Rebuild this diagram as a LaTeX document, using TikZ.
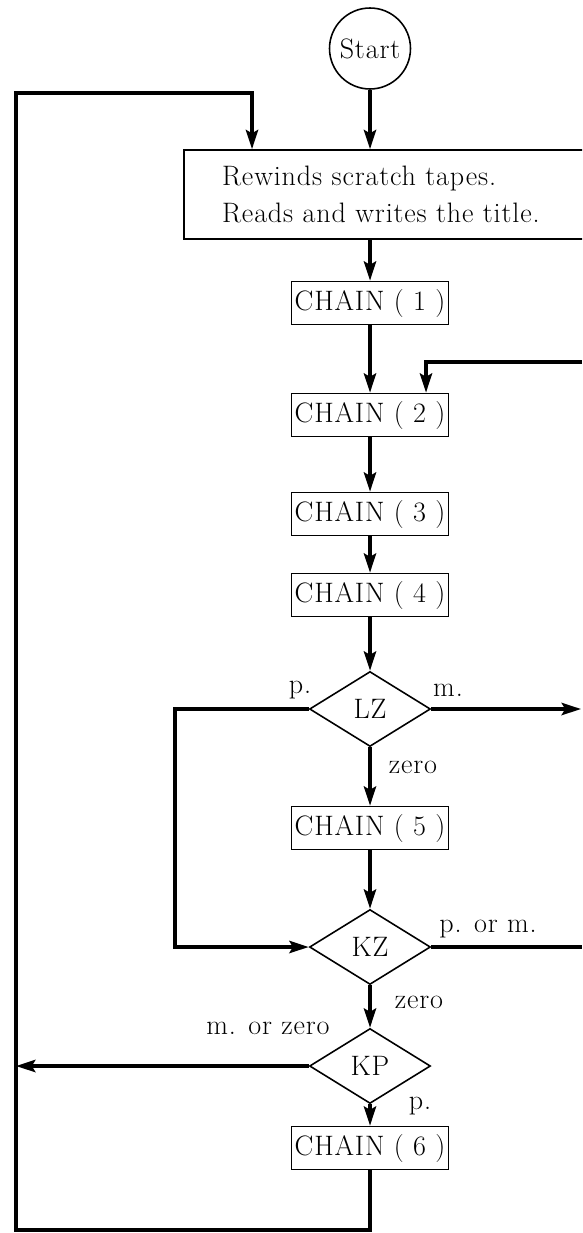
\documentclass[tikz,border=0pt]{standalone}
\usepackage{fontspec}
\setmainfont{Latin Modern Roman}[LetterSpace=3]
\newfontfamily\tapefont{Latin Modern Roman}[LetterSpace=3, WordSpace=2]
\usepackage{tikz}
\usetikzlibrary{arrows.meta, shapes.geometric}

\begin{document}
\begin{tikzpicture}[>={Stealth[length=11pt, width=7pt, inset=2pt]}, x=0.02cm, y=-0.02cm,
  flow/.style={line width=2pt},
  chainbox/.style={draw, line width=0.9pt, minimum width=3.14cm, minimum height=0.86cm, inner sep=0pt, font=\fontsize{16}{18}\selectfont},
  test/.style={diamond, draw, line width=0.9pt, minimum width=2.42cm, minimum height=1.5cm, inner sep=0pt, font=\fontsize{16}{18}\selectfont},
  lbl/.style={font=\fontsize{16}{18}\selectfont, inner sep=0pt}]
\clip (0,0) rectangle (582,1233);
% boxes
\node[circle, draw, line width=0.9pt, minimum size=1.62cm, inner sep=0pt, font=\fontsize{16}{18}\selectfont] (start) at (370,48.5) {Start};
\node[draw, line width=0.9pt, minimum width=8.32cm, minimum height=1.78cm, text width=6.8cm, align=left, inner xsep=0.76cm, inner ysep=0pt, font=\tapefont\fontsize{16}{21.5}\selectfont] (init) at (392,194.5) {Rewinds scratch tapes.\\Reads and writes the title.};
\node[chainbox] (chain1) at (370,303) {CHAIN ( 1 )};
\node[chainbox] (chain2) at (370,415) {CHAIN ( 2 )};
\node[chainbox] (chain3) at (370,514) {CHAIN ( 3 )};
\node[chainbox] (chain4) at (370,595) {CHAIN ( 4 )};
\node[test] (lz) at (370,709) {LZ};
\node[chainbox] (chain5) at (370,828) {CHAIN ( 5 )};
\node[test] (kz) at (370,947) {KZ};
\node[test] (kp) at (370,1066) {KP};
\node[chainbox] (chain6) at (370,1148) {CHAIN ( 6 )};
% labels
\node[lbl] (lzp) at (300,690) {p.};
\node[lbl] (lzm) at (448,690) {m.};
\node[lbl] (lzzero) at (413,767) {zero};
\node[lbl] (kzpm) at (488,929) {p. or m.};
\node[lbl] (kzzero) at (419,1002) {zero};
\node[lbl] (kpmz) at (268,1028) {m. or zero};
\node[lbl] (kpp) at (420,1106) {p.};
% free ends
\coordinate (botR) at (370,1230);
\coordinate (botL) at (16,1230);
\coordinate (topL) at (16,93);
\coordinate (topR) at (252,93);
\coordinate (lzL) at (175,709);
\coordinate (lzR) at (581,709);
\coordinate (kzR) at (582,947);
\coordinate (retR) at (582,362);
\coordinate (retL) at (426,362);
% main flow
\draw[flow,->] (start) -- (start |- init.north);
\draw[flow,->] (init.south -| chain1) -- (chain1);
\draw[flow,->] (chain1) -- (chain2);
\draw[flow,->] (chain2) -- (chain3);
\draw[flow,->] (chain3) -- (chain4);
\draw[flow,->] (chain4) -- (lz);
\draw[flow,->] (lz) -- (chain5);
\draw[flow,->] (chain5) -- (kz);
\draw[flow,->] (kz) -- (kp);
\draw[flow,->] (kp) -- (chain6);
% branches
\draw[flow,->] (lz) -- (lzL) -- (lzL |- kz) -- (kz);
\draw[flow,->] (lz) -- (lzR);
\draw[flow] (kz) -- (kzR);
\draw[flow,->] (retR) -- (retL) -- (retL |- chain2.north);
\draw[flow,->] (kp.west) -- (kp.west -| botL);
\draw[flow,->] (chain6) -- (botR) -- (botL) -- (topL) -- (topR) -- (topR |- init.north);
\end{tikzpicture}
\end{document}
